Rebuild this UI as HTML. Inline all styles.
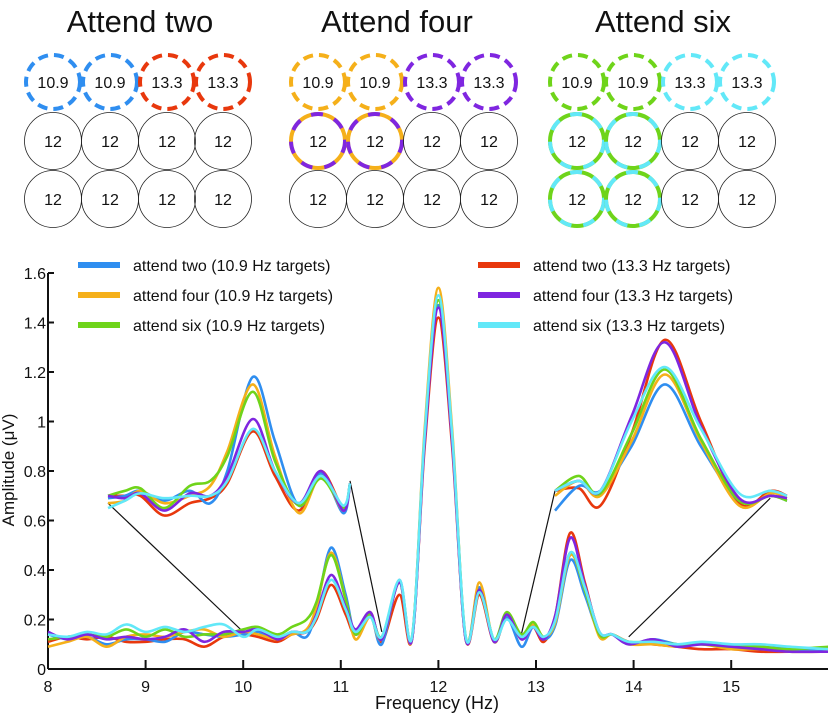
<!DOCTYPE html>
<html><head><meta charset="utf-8"><style>
body{margin:0;background:#fff;}
svg{display:block;font-family:"Liberation Sans",sans-serif;}
</style></head><body>
<svg id="fig" width="828" height="714" viewBox="0 0 828 714">
<g id="topg"></g>
<g id="chart"></g>
</svg>
<script>
const NS="http://www.w3.org/2000/svg";
function mk(tag,attrs,parent){const e=document.createElementNS(NS,tag);for(const k in attrs)e.setAttribute(k,attrs[k]);parent.appendChild(e);return e;}

// ---------- chart data ----------
const seriesNames=["attend two (10.9 Hz targets)","attend four (10.9 Hz targets)","attend six (10.9 Hz targets)","attend two (13.3 Hz targets)","attend four (13.3 Hz targets)","attend six (13.3 Hz targets)"];
const seriesColors=["#2f8ef0","#f5b01a","#6fd41a","#e8380d","#7f26e0","#62e8f8"];
const freqs=[8.0,8.2,8.4,8.6,8.8,9.0,9.2,9.4,9.6,9.8,10.0,10.15,10.35,10.5,10.65,10.75,10.9,11.05,11.15,11.3,11.42,11.6,11.73,11.86,12.0,12.14,12.28,12.42,12.57,12.7,12.85,12.97,13.08,13.2,13.35,13.5,13.65,13.78,13.95,14.2,14.45,14.7,15.0,15.3,15.6,16.0];
const twoA=[0.14,0.12,0.13,0.10,0.12,0.12,0.11,0.15,0.14,0.13,0.14,0.15,0.12,0.15,0.13,0.24,0.49,0.30,0.14,0.22,0.10,0.36,0.12,0.93,1.47,0.93,0.12,0.33,0.11,0.21,0.09,0.17,0.12,0.18,0.44,0.30,0.14,0.14,0.10,0.12,0.10,0.10,0.09,0.09,0.08,0.07];
const fourA=[0.09,0.11,0.13,0.09,0.13,0.14,0.13,0.15,0.16,0.13,0.15,0.14,0.12,0.14,0.16,0.25,0.47,0.28,0.12,0.21,0.12,0.35,0.12,0.97,1.54,0.97,0.12,0.35,0.11,0.22,0.12,0.18,0.13,0.19,0.46,0.32,0.13,0.14,0.10,0.10,0.09,0.10,0.08,0.08,0.07,0.07];
const sixA=[0.12,0.13,0.14,0.13,0.16,0.13,0.16,0.13,0.14,0.14,0.16,0.17,0.14,0.17,0.20,0.27,0.46,0.28,0.14,0.22,0.13,0.35,0.13,0.94,1.49,0.94,0.13,0.32,0.12,0.23,0.14,0.19,0.13,0.20,0.47,0.32,0.14,0.14,0.11,0.11,0.10,0.10,0.09,0.09,0.08,0.09];
const twoB=[0.11,0.13,0.12,0.13,0.11,0.11,0.12,0.12,0.09,0.13,0.14,0.13,0.11,0.14,0.15,0.20,0.34,0.22,0.14,0.23,0.11,0.30,0.12,0.90,1.42,0.90,0.12,0.30,0.11,0.21,0.13,0.17,0.11,0.22,0.55,0.35,0.14,0.14,0.11,0.10,0.09,0.08,0.08,0.07,0.07,0.07];
const fourB=[0.15,0.12,0.14,0.12,0.13,0.12,0.13,0.16,0.11,0.15,0.15,0.16,0.12,0.15,0.15,0.22,0.38,0.25,0.16,0.23,0.12,0.35,0.12,0.92,1.46,0.92,0.12,0.32,0.11,0.22,0.12,0.17,0.12,0.22,0.53,0.34,0.15,0.14,0.10,0.12,0.09,0.10,0.09,0.08,0.07,0.07];
const sixB=[0.14,0.13,0.15,0.14,0.18,0.15,0.17,0.15,0.17,0.18,0.13,0.16,0.13,0.15,0.15,0.21,0.36,0.24,0.15,0.21,0.13,0.36,0.13,0.95,1.51,0.95,0.13,0.31,0.12,0.20,0.13,0.17,0.13,0.20,0.47,0.33,0.15,0.14,0.11,0.11,0.10,0.11,0.10,0.10,0.09,0.08];
const insetLFreqs=[10.0,10.1,10.19,10.33,10.48,10.6,10.7,10.85,10.98,11.12,11.25,11.38,11.42];
const insetL_twoA=[0.69,0.70,0.72,0.68,0.72,0.67,0.80,1.18,0.92,0.66,0.79,0.63,0.75];
const insetL_fourA=[0.67,0.68,0.72,0.67,0.70,0.74,0.88,1.15,0.86,0.63,0.78,0.64,0.75];
const insetL_sixA=[0.70,0.72,0.73,0.65,0.74,0.76,0.86,1.12,0.84,0.66,0.77,0.65,0.75];
const insetL_twoB=[0.70,0.70,0.70,0.62,0.67,0.69,0.75,0.96,0.78,0.64,0.80,0.65,0.75];
const insetL_fourB=[0.70,0.69,0.71,0.64,0.71,0.70,0.78,1.01,0.80,0.67,0.80,0.64,0.75];
const insetL_sixB=[0.65,0.68,0.71,0.69,0.70,0.70,0.76,0.97,0.80,0.67,0.78,0.66,0.75];
const insetRFreqs=[12.9,13.0,13.09,13.22,13.36,13.51,13.67,13.8,13.87];
const insetR_twoA=[0.64,0.74,0.72,0.90,1.15,0.90,0.68,0.70,0.68];
const insetR_fourA=[0.70,0.76,0.70,0.92,1.19,0.92,0.66,0.71,0.69];
const insetR_sixA=[0.72,0.78,0.71,0.95,1.21,0.93,0.68,0.70,0.68];
const insetR_twoB=[0.72,0.73,0.66,0.95,1.33,1.00,0.67,0.72,0.70];
const insetR_fourB=[0.72,0.76,0.72,1.02,1.32,0.98,0.69,0.70,0.69];
const insetR_sixB=[0.72,0.76,0.72,1.00,1.22,0.97,0.71,0.72,0.70];
const xTicks=[8,9,10,11,12,13,14,15];
const yTicks=[0,0.2,0.4,0.6,0.8,1,1.2,1.4,1.6];
const yTickLabels=["0","0.2","0.4","0.6","0.8","1","1.2","1.4","1.6"];

// ---------- top diagrams ----------
const topG=document.getElementById('topg');
const panelTitles=["Attend two","Attend four","Attend six"];
const panelX=[[53,110,167,223],[318,375,432,489],[577,633,690,747]];
const rowY=[82,141,199];
const titleX=[140,397,663];
const dashCols=[["#2f8ef0","#e8380d"],["#f5b01a","#7f26e0"],["#6fd41a","#62e8f8"]];
for(let p=0;p<3;p++){
  const t=mk('text',{x:titleX[p],y:32,'font-size':31,'text-anchor':'middle',fill:'#111'},topG);
  t.textContent=panelTitles[p];
  
  
  for(let r=0;r<3;r++)for(let c=0;c<4;c++){
    const cx=panelX[p][c],cy=rowY[r];
    const g=mk('g',{},topG);
    
    
    let label="12";
    if(r===0){
      label=c<2?"10.9":"13.3";
      mk('circle',{cx,cy,r:27,fill:'none',stroke:dashCols[p][c<2?0:1],'stroke-width':4,'stroke-dasharray':'10 6'},g);
    } else if(p>0 && c<2 && (p===2 || r===1)){
      mk('circle',{cx,cy,r:27,fill:'none',stroke:dashCols[p][0],'stroke-width':4},g);
      mk('circle',{cx,cy,r:27,fill:'none',stroke:dashCols[p][1],'stroke-width':4,'stroke-dasharray':'12 12'},g);
    } else {
      mk('circle',{cx,cy,r:28.5,fill:'none',stroke:'#222','stroke-width':0.8},g);
    }
    const tx=mk('text',{x:cx,y:cy+6,'font-size':16,'text-anchor':'middle',fill:'#111'},g);
    tx.textContent=label;
  }
}

// ---------- scales ----------
const X0=48,XPH=97.6,Y0=669,YPU=247.5;
const x=f=>X0+(f-8)*XPH;
const y=v=>Y0-v*YPU;
const xL=f=>108+(f-10.0)*(242/1.42);
const xR=f=>555+(f-12.9)*(232/0.97);

function curve(fx,fs,vs){
  const P=fs.map((f,i)=>[fx(f),y(vs[i])]);
  let d=`M${P[0][0].toFixed(1)},${P[0][1].toFixed(1)}`;
  for(let i=0;i<P.length-1;i++){
    const p0=P[Math.max(0,i-1)],p1=P[i],p2=P[i+1],p3=P[Math.min(P.length-1,i+2)];
    const c1=[p1[0]+(p2[0]-p0[0])/6,p1[1]+(p2[1]-p0[1])/6];
    const c2=[p2[0]-(p3[0]-p1[0])/6,p2[1]-(p3[1]-p1[1])/6];
    d+=`C${c1[0].toFixed(1)},${c1[1].toFixed(1)} ${c2[0].toFixed(1)},${c2[1].toFixed(1)} ${p2[0].toFixed(1)},${p2[1].toFixed(1)}`;
  }
  return d;
}

const ch=document.getElementById('chart');
const ax=mk('g',{stroke:'#111','stroke-width':2,fill:'none'},ch);


mk('line',{x1:X0,y1:y(1.6),x2:X0,y2:Y0},ax);
mk('line',{x1:X0,y1:Y0,x2:828,y2:Y0},ax);
xTicks.forEach(t=>{
  mk('line',{x1:x(t),y1:Y0,x2:x(t),y2:Y0-9},ax);
  const tl=mk('text',{x:x(t),y:Y0+23,'font-size':16,'text-anchor':'middle',fill:'#111',stroke:'none'},ch);
  tl.textContent=t;
  
  
});
yTicks.forEach((t,i)=>{
  mk('line',{x1:X0,y1:y(t),x2:X0+6,y2:y(t)},ax);
  const tl=mk('text',{x:X0-2,y:y(t)+6,'font-size':16,'text-anchor':'end',fill:'#111',stroke:'none'},ch);
  tl.textContent=yTickLabels[i];
  
  
});
const xt=mk('text',{x:437,y:709,'font-size':18,'text-anchor':'middle',fill:'#111'},ch);
xt.textContent="Frequency (Hz)";


const yt=mk('text',{x:0,y:0,'font-size':17,'text-anchor':'middle',fill:'#111',transform:'translate(14,470) rotate(-90)'},ch);
yt.textContent="Amplitude (\u03bcV)";



const con=mk('g',{stroke:'#111','stroke-width':1.2},ch);


mk('line',{x1:xL(10.0),y1:y(0.67),x2:x(10.0),y2:y(0.15)},con);
mk('line',{x1:xL(11.42),y1:y(0.76),x2:x(11.42),y2:y(0.15)},con);
mk('line',{x1:xR(12.9),y1:y(0.72),x2:x(12.85),y2:y(0.14)},con);
mk('line',{x1:xR(13.8),y1:y(0.69),x2:x(13.95),y2:y(0.13)},con);

const mainData=[twoA,fourA,sixA,twoB,fourB,sixB];
const insetLData=[insetL_twoA,insetL_fourA,insetL_sixA,insetL_twoB,insetL_fourB,insetL_sixB];
const insetRData=[insetR_twoA,insetR_fourA,insetR_sixA,insetR_twoB,insetR_fourB,insetR_sixB];
const order=[3,0,1,2,4,5];
order.forEach(i=>{
  const p=mk('path',{d:curve(x,freqs,mainData[i]),fill:'none',stroke:seriesColors[i],'stroke-width':2.6},ch);
  
  
});
order.forEach(i=>{
  const p=mk('path',{d:curve(xL,insetLFreqs,insetLData[i]),fill:'none',stroke:seriesColors[i],'stroke-width':2.6},ch);
  
  
});
order.forEach(i=>{
  const p=mk('path',{d:curve(xR,insetRFreqs,insetRData[i]),fill:'none',stroke:seriesColors[i],'stroke-width':2.6},ch);
  
  
});

const legY=[265,295,325];
seriesNames.forEach((n,i)=>{
  const col=i<3?0:1, row=i%3;
  const lx=col===0?78:478;
  const g=mk('g',{},ch);
  
  
  mk('line',{x1:lx,y1:legY[row],x2:lx+42,y2:legY[row],stroke:seriesColors[i],'stroke-width':6},g);
  const t=mk('text',{x:lx+55,y:legY[row]+6,'font-size':16,fill:'#111'},g);
  t.textContent=n;
});
</script>
</body></html>
